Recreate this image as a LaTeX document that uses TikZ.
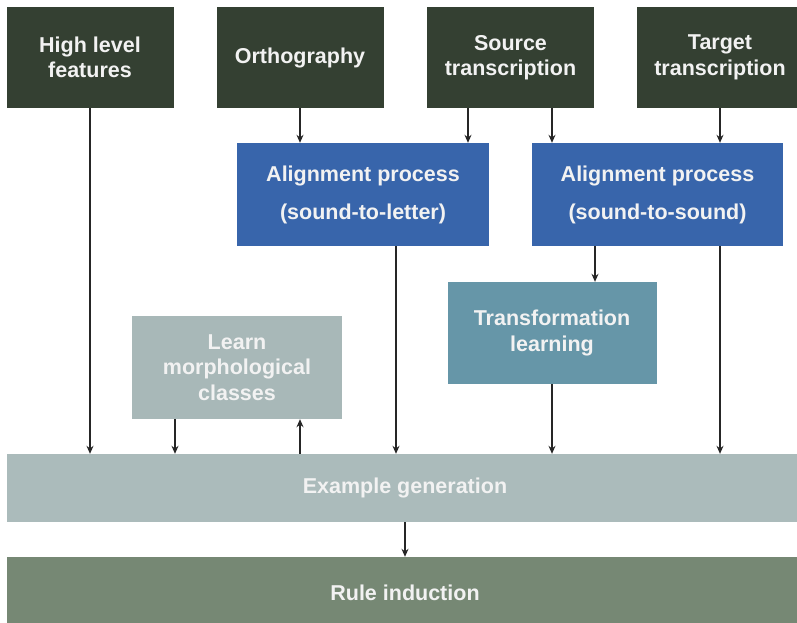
\documentclass[tikz,border=0pt]{standalone}
\usepackage{fontspec}
\setmainfont{Liberation Sans}
\usetikzlibrary{arrows.meta,calc}
\definecolor{darkbox}{RGB}{52,64,50}
\definecolor{bluebox}{RGB}{56,101,171}
\definecolor{transbox}{RGB}{102,150,168}
\definecolor{learnbox}{RGB}{168,184,184}
\definecolor{exbox}{RGB}{171,187,187}
\definecolor{rulebox}{RGB}{118,136,116}
\definecolor{boxtext}{RGB}{242,242,242}
\tikzset{
  box/.style={rectangle, inner sep=0pt, align=center, text=boxtext,
    font=\fontsize{21.5}{25.5}\selectfont\bfseries},
  topbox/.style={box, fill=darkbox, minimum width=167, minimum height=101},
  alignbox/.style={box, fill=bluebox, minimum width=252, minimum height=103,
    font=\fontsize{21.5}{38}\selectfont\bfseries},
  arr/.style={line width=1.2pt, draw=black!85, -{Stealth[length=8pt,width=7pt]}}
}
\begin{document}
\begin{tikzpicture}[x=1pt,y=-1pt]
\useasboundingbox (0,0) rectangle (797,622);
\clip (0,0) rectangle (797,622);
\fill[white] (0,0) rectangle (797,622);
% top row
\node[topbox] (hlf) at (90,57.5) {High level\\features};
\node[topbox] (orth) at (300,57.5) {Orthography};
\node[topbox] (src) at (510.5,57.5) {Source\\transcription};
\node[topbox, minimum width=166] (tgt) at (720,57.5) {Target\\transcription};
% alignment
\node[alignbox] (al1) at (363,194.5) {\raisebox{-3pt}{Alignment process}\\\raisebox{-3pt}{(sound-to-letter)}};
\node[alignbox, minimum width=251] (al2) at (657.5,194.5) {\raisebox{-3pt}{Alignment process}\\\raisebox{-3pt}{(sound-to-sound)}};
% middle
\node[box, fill=transbox, minimum width=209, minimum height=102] (tl) at (552,333) {Transformation\\learning};
\node[box, fill=learnbox, minimum width=210, minimum height=103] (lm) at (237,367.5) {Learn\\morphological\\classes};
% bottom
\node[box, fill=exbox, minimum width=796, minimum height=68] (ex) at (405,488) {Example generation};
\node[box, fill=rulebox, minimum width=796, minimum height=72] (ri) at (405,593) {Rule induction};
% connectors
\draw[arr] (hlf.south) -- (hlf.south |- ex.north);
\draw[arr] (orth.south) -- (orth.south |- al1.north);
\draw[arr] ([xshift=-42.5pt]src.south) -- ([xshift=-42.5pt]src.south |- al1.north);
\draw[arr] ([xshift=41.5pt]src.south) -- ([xshift=41.5pt]src.south |- al2.north);
\draw[arr] (tgt.south) -- (tgt.south |- al2.north);
\draw[arr] ([xshift=-62.5pt]al2.south) -- ([xshift=-62.5pt]al2.south |- tl.north);
\draw[arr] ([xshift=33pt]al1.south) -- ([xshift=33pt]al1.south |- ex.north);
\draw[arr] (tl.south) -- (tl.south |- ex.north);
\draw[arr] (tgt.south |- al2.south) -- (tgt.south |- ex.north);
\draw[arr] ([xshift=-62pt]lm.south) -- ([xshift=-62pt]lm.south |- ex.north);
\draw[arr] ([xshift=63pt]lm.south |- ex.north) -- ([xshift=63pt]lm.south);
\draw[arr] (ex.south) -- (ri.north);
\end{tikzpicture}
\end{document}
